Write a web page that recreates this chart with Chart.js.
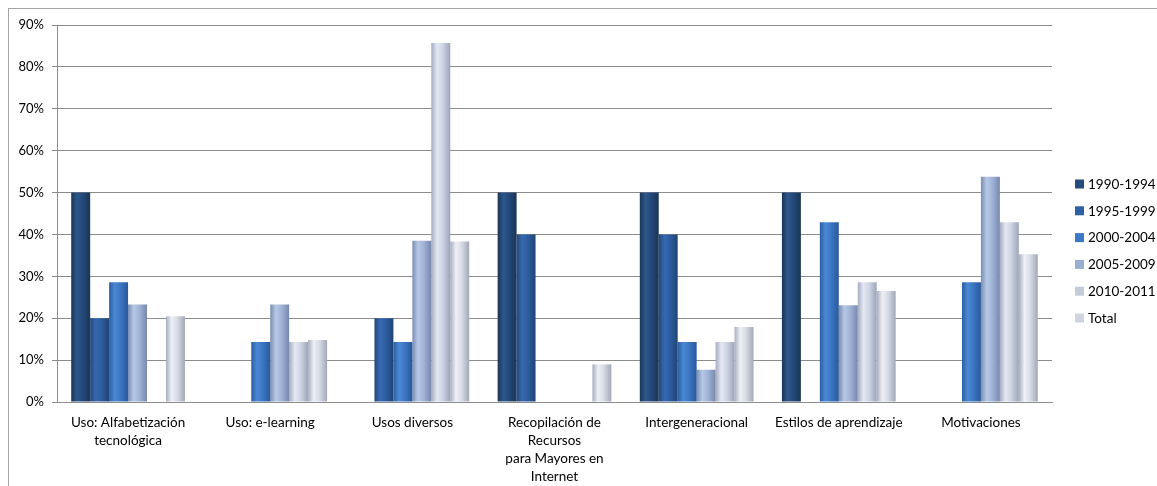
<!DOCTYPE html>
<html lang="es">

<head>
  <meta charset="UTF-8" />
  <script src="https://cdn.jsdelivr.net/npm/chart.js"></script>
  <title>Estudios por periodo</title>
  <style>
    body { margin: 0; background: #fff; }
    .tela { position: relative; width: 1157px; height: 486px; overflow: hidden; }
    .marco {
      position: absolute; left: 8px; top: 8px; right: -2px; bottom: -2px;
      border-top: 1px solid #a6a6a6; border-left: 1px solid #a6a6a6;
    }
    canvas { position: absolute; left: 0; top: 0; }
  </style>
</head>

<body>
  <div class="tela">
    <div class="marco"></div>
    <canvas id="grafico" width="1157" height="486"></canvas>
  </div>

<script>
  const categorias = [
    ["Uso: Alfabetización", "tecnológica"],
    "Uso: e-learning",
    "Usos diversos",
    ["Recopilación de", "Recursos", "para Mayores en", "Internet"],
    "Intergeneracional",
    "Estilos de aprendizaje",
    "Motivaciones",
  ];

  const periodos = ["1990-1994", "1995-1999", "2000-2004", "2005-2009", "2010-2011", "Total"];

  const v1990 = [50, 0, 0, 50, 50, 50, 0];
  const v1995 = [20, 0, 20, 40, 40, 0, 0];
  const v2000 = [28.6, 14.3, 14.3, 0, 14.3, 42.9, 28.6];
  const v2005 = [23.3, 23.3, 38.5, 0, 7.7, 23.1, 53.8];
  const v2010 = [0, 14.3, 85.7, 0, 14.3, 28.6, 42.9];
  const vTotal = [20.5, 14.8, 38.3, 9.0, 17.9, 26.5, 35.3];

  const valores = [v1990, v1995, v2000, v2005, v2010, vTotal];

  // tons para o degradê horizontal de cada série (borda, brilho, meio, borda)
  const tons = [
    ["#1a3658", "#2d578c", "#24497a", "#1a3454"],
    ["#22487c", "#3769b0", "#2d5c9f", "#1f4476"],
    ["#2b5ea1", "#4b88d4", "#3b76c2", "#29589a"],
    ["#7a8db1", "#b7c8e6", "#a0b3d6", "#7689ad"],
    ["#a3abbf", "#e4e8f2", "#cdd4e3", "#9ca5b9"],
    ["#a7adbc", "#eef0f6", "#d7dbe5", "#a1a8b7"],
  ];

  const corLegenda = ["#264c7e", "#2f60a4", "#3b78c6", "#9aaed2", "#c4ccdc", "#cfd4de"];

  const catPct = 0.8;

  function degrade(indice) {
    return function (ctx) {
      const chart = ctx.chart;
      const x = chart.scales.x;
      if (!x || ctx.type !== "data") return tons[indice][2];
      const largCat = x.width / categorias.length;
      const slot = (largCat * catPct) / periodos.length;
      const centro = x.getPixelForValue(ctx.dataIndex);
      const x0 = centro - (largCat * catPct) / 2 + indice * slot;
      if (!isFinite(x0) || !isFinite(slot) || slot <= 0) return tons[indice][2];
      const g = chart.ctx.createLinearGradient(x0, 0, x0 + slot, 0);
      const t = tons[indice];
      g.addColorStop(0, t[0]);
      g.addColorStop(0.3, t[1]);
      g.addColorStop(0.6, t[2]);
      g.addColorStop(1, t[3]);
      return g;
    };
  }

  const legendaLateral = {
    id: "legendaLateral",
    afterDraw(chart) {
      const c = chart.ctx;
      c.save();
      c.font = "13.5px Lato";
      c.textBaseline = "middle";
      chart.data.datasets.forEach((ds, i) => {
        const y = 184 + i * 26.8;
        c.fillStyle = corLegenda[i];
        c.fillRect(1075, y - 4.5, 9, 9);
        c.fillStyle = "#000";
        c.fillText(ds.label, 1088, y + 0.5);
      });
      c.restore();
    },
  };

  const dados = {
    labels: categorias,
    datasets: periodos.map((p, i) => ({
      label: p,
      data: valores[i],
      backgroundColor: degrade(i),
      borderWidth: 0,
      categoryPercentage: catPct,
      barPercentage: 1.0,
    })),
  };

  const config = {
    type: "bar",
    data: dados,
    options: {
      responsive: false,
      animation: false,
      layout: {
        padding: { left: 0, right: 105, top: 25, bottom: 0 },
      },
      scales: {
        x: {
          grid: { display: false },
          border: { display: true, color: "#8c8c8c" },
          ticks: {
            color: "#000",
            font: { family: "Lato", size: 13.5, lineHeight: 1.33 },
            padding: 4,
            maxRotation: 0,
            autoSkip: false,
          },
          afterFit: (scale) => { scale.height = 84; },
        },
        y: {
          min: 0,
          max: 90,
          grid: { color: "#8c8c8c", tickLength: 5 },
          border: { display: true, color: "#8c8c8c" },
          ticks: {
            stepSize: 10,
            color: "#000",
            padding: 8,
            font: { family: "Lato", size: 13 },
            callback: (v) => v + "%",
          },
          afterFit: (scale) => { scale.width = 57; },
        },
      },
      plugins: {
        legend: { display: false },
        tooltip: { enabled: false },
      },
    },
    plugins: [legendaLateral],
  };

  new Chart(document.getElementById("grafico").getContext("2d"), config);
</script>
</body>

</html>
